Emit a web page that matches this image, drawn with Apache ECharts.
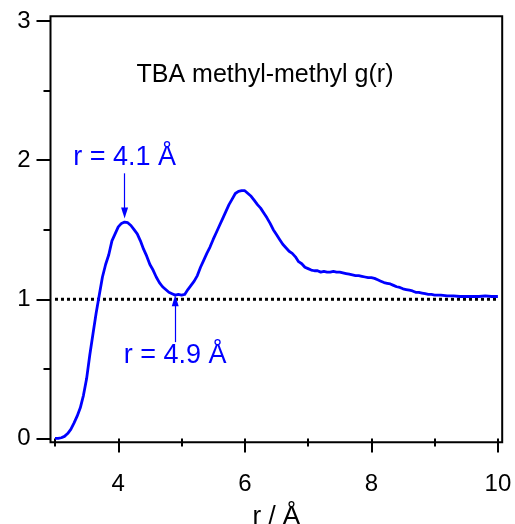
<!DOCTYPE html>
<html>
<head>
<meta charset="utf-8">
<title>TBA methyl-methyl g(r)</title>
<script src="https://cdn.jsdelivr.net/npm/echarts@6/dist/echarts.min.js"></script>
<style>
  html, body { margin: 0; padding: 0; background: #fff; }
  #chart { width: 515px; height: 524px; }
</style>
</head>
<body>
<div id="chart"></div>
<script>
// Radial distribution function, methyl-methyl pairs in TBA
const rValues = [
  3.00, 3.05, 3.10, 3.15, 3.20, 3.25, 3.30, 3.35, 3.40, 3.45,
  3.50, 3.55, 3.60, 3.65, 3.70, 3.75, 3.80, 3.85, 3.90, 3.95,
  4.00, 4.05, 4.10, 4.15, 4.20, 4.25, 4.30, 4.35, 4.40, 4.45,
  4.50, 4.55, 4.60, 4.65, 4.70, 4.75, 4.80, 4.85, 4.90, 4.95,
  5.00, 5.05, 5.10, 5.15, 5.20, 5.25, 5.30, 5.35, 5.40, 5.45,
  5.50, 5.55, 5.60, 5.65, 5.70, 5.75, 5.80, 5.85, 5.90, 5.95,
  6.00, 6.05, 6.10, 6.15, 6.20, 6.25, 6.30, 6.35, 6.40, 6.45,
  6.50, 6.55, 6.60, 6.65, 6.70, 6.75, 6.80, 6.85, 6.90, 6.95,
  7.00, 7.05, 7.10, 7.15, 7.20, 7.25, 7.30, 7.35, 7.40, 7.45,
  7.50, 7.55, 7.60, 7.65, 7.70, 7.75, 7.80, 7.85, 7.90, 7.95,
  8.00, 8.05, 8.10, 8.15, 8.20, 8.25, 8.30, 8.35, 8.40, 8.45,
  8.50, 8.55, 8.60, 8.65, 8.70, 8.75, 8.80, 8.85, 8.90, 8.95,
  9.00, 9.10, 9.20, 9.30, 9.40, 9.50, 9.60, 9.70, 9.80, 9.90,
  10.00
];
const gValues = [
  0.000, 0.000, 0.005, 0.015, 0.035, 0.065, 0.110, 0.160, 0.220, 0.310,
  0.430, 0.600, 0.750, 0.900, 1.030, 1.160, 1.250, 1.320, 1.420, 1.470,
  1.520, 1.545, 1.555, 1.550, 1.530, 1.500, 1.470, 1.420, 1.360, 1.310,
  1.250, 1.210, 1.160, 1.120, 1.090, 1.070, 1.050, 1.040, 1.030, 1.035,
  1.030, 1.035, 1.070, 1.100, 1.130, 1.170, 1.230, 1.280, 1.330, 1.375,
  1.430, 1.480, 1.530, 1.580, 1.630, 1.680, 1.720, 1.760, 1.775, 1.780,
  1.780, 1.760, 1.740, 1.710, 1.680, 1.655, 1.620, 1.585, 1.545, 1.500,
  1.465, 1.430, 1.395, 1.370, 1.345, 1.330, 1.305, 1.270, 1.255, 1.230,
  1.220, 1.210, 1.205, 1.205, 1.195, 1.200, 1.195, 1.195, 1.200, 1.195,
  1.195, 1.190, 1.185, 1.180, 1.175, 1.170, 1.170, 1.165, 1.160, 1.155,
  1.155, 1.150, 1.140, 1.130, 1.120, 1.115, 1.110, 1.100, 1.090, 1.085,
  1.075, 1.070, 1.065, 1.060, 1.050, 1.050, 1.045, 1.040, 1.035, 1.035,
  1.030, 1.030, 1.025, 1.025, 1.020, 1.020, 1.020, 1.020, 1.025, 1.020,
  1.020
];

// Axis ticks and labels
const xMajorTicks = [4, 6, 8, 10];
const xMinorTicks = [3, 5, 7, 9];
const yMajorTicks = [0, 1, 2, 3];
const yMinorTicks = [0.5, 1.5, 2.5];

// Reference level g(r) = 1
const unityLine = [[3, 1], [10, 1]];

// Annotated extrema: first peak and first minimum
const peakR = 4.1;
const minR = 4.9;
const peakArrowG = [1.905, 1.62];   // arrow tail, arrow head centre
const minArrowG = [0.692, 0.99];
const peakLabelG = 2.017;
const minLabelG = 0.595;

const titleText = 'TBA methyl-methyl g(r)';
const xName = 'r / Å';

const FONT = 'Liberation Sans, Arial, Helvetica, sans-serif';
const BLUE = '#0000ff';

const chart = echarts.init(document.getElementById('chart'), null, { renderer: 'canvas' });

const curve = rValues.map((r, i) => [r, gValues[i]]);
const fmt = r => 'r = ' + r.toFixed(1) + ' Å';

const xBase = {
  type: 'value', min: 2.929, max: 10.068,
  splitLine: { show: false }, axisLine: { show: false }
};
const yBase = {
  type: 'value', min: -0.027, max: 3.034,
  splitLine: { show: false }, axisLine: { show: false }
};

chart.setOption({
  animation: false,
  backgroundColor: '#fff',
  grid: {
    left: 50.5, right: 12.8, top: 16.2, bottom: 81.8,
    containLabel: false, outerBoundsMode: 'none',
    show: true, borderColor: '#000', borderWidth: 2, backgroundColor: 'transparent'
  },
  xAxis: [
    Object.assign({}, xBase, {
      position: 'bottom',
      name: xName, nameLocation: 'middle', nameGap: 62,
      nameTextStyle: { fontFamily: FONT, fontSize: 26, color: '#000' },
      axisTick: { show: true, inside: false, length: 14, customValues: xMajorTicks,
                  lineStyle: { color: '#000', width: 2 } },
      axisLabel: { show: true, customValues: xMajorTicks, margin: 30,
                   fontFamily: FONT, fontSize: 24, color: '#000' }
    }),
    Object.assign({}, xBase, {
      position: 'bottom',
      axisTick: { show: true, inside: false, length: 8, customValues: xMinorTicks,
                  lineStyle: { color: '#000', width: 2 } },
      axisLabel: { show: false }
    })
  ],
  yAxis: [
    Object.assign({}, yBase, {
      position: 'left',
      axisTick: { show: true, inside: false, length: 14, customValues: yMajorTicks,
                  lineStyle: { color: '#000', width: 2 } },
      axisLabel: { show: true, customValues: yMajorTicks, margin: 20,
                   fontFamily: FONT, fontSize: 24, color: '#000' }
    }),
    Object.assign({}, yBase, {
      position: 'left',
      axisTick: { show: true, inside: false, length: 7, customValues: yMinorTicks,
                  lineStyle: { color: '#000', width: 2 } },
      axisLabel: { show: false }
    })
  ],
  graphic: [{
    type: 'text', x: 265, y: 75,
    style: {
      text: titleText, fill: '#000', font: '25px ' + FONT,
      align: 'center', verticalAlign: 'middle'
    }
  }],
  series: [
    {
      name: 'unity', type: 'line', xAxisIndex: 0, yAxisIndex: 0,
      data: unityLine, showSymbol: false, symbol: 'none', silent: true,
      lineStyle: { color: '#000', width: 3, type: [3, 3] }, z: 2
    },
    {
      name: 'g(r)', type: 'line', xAxisIndex: 0, yAxisIndex: 0,
      data: curve, showSymbol: false, symbol: 'none', smooth: false,
      lineStyle: { color: BLUE, width: 2.8, join: 'round' }, z: 3
    },
    {
      name: 'annotations', type: 'scatter', xAxisIndex: 0, yAxisIndex: 0,
      symbolSize: 0, silent: true, z: 4,
      itemStyle: { color: BLUE, opacity: 1 },
      data: [
        { value: [peakR, peakLabelG], label: { formatter: fmt(peakR) } },
        { value: [minR, minLabelG], label: { formatter: fmt(minR) } }
      ],
      label: { show: true, position: 'inside', fontFamily: FONT, fontSize: 27,
               color: BLUE, textBorderWidth: 0, textBorderColor: 'transparent' },
      markLine: {
        silent: true, animation: false,
        symbol: ['none', 'triangle'], symbolSize: [7, 11],
        label: { show: false },
        itemStyle: { color: BLUE },
        lineStyle: { color: BLUE, width: 1.2, type: 'solid' },
        data: [
          [{ coord: [peakR, peakArrowG[0]] }, { coord: [peakR, peakArrowG[1]] }],
          [{ coord: [minR, minArrowG[0]] }, { coord: [minR, minArrowG[1]] }]
        ]
      }
    }
  ]
});
</script>
</body>
</html>
